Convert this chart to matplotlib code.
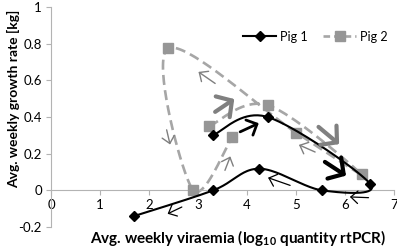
import numpy as np
import matplotlib
matplotlib.use("Agg")
import matplotlib.pyplot as plt

plt.rcParams['font.family'] = ['Lato', 'DejaVu Sans']
plt.rcParams['mathtext.fontset'] = 'custom'
plt.rcParams['mathtext.rm'] = 'Lato:bold'
plt.rcParams['mathtext.bf'] = 'Lato:bold'

# Data (trajectory order)
pig1_x = [3.30, 4.42, 6.52, 5.53, 4.25, 3.31, 1.70]
pig1_y = [0.30, 0.40, 0.033, 0.0, 0.118, 0.0, -0.14]
pig2_x = [3.23, 4.43, 6.34, 5.01, 2.39, 2.89, 3.70]
pig2_y = [0.35, 0.464, 0.087, 0.313, 0.774, 0.004, 0.29]
series_labels = ["Pig 1", "Pig 2"]
x_ticks = [0, 1, 2, 3, 4, 5, 6, 7]
y_ticks = [-0.2, 0, 0.2, 0.4, 0.6, 0.8, 1]

# Direction annotations: (x0, y0, x1, y1, style)
arrows = [
    (3.35, 0.583, 3.01, 0.646, 'gthin'),
    (3.35, 0.428, 3.74, 0.498, 'gbig'),
    (3.86, 0.319, 4.24, 0.366, 'kmid'),
    (5.46, 0.346, 5.88, 0.252, 'gbig'),
    (5.39, 0.209, 5.06, 0.248, 'gthin'),
    (5.59, 0.155, 6.02, 0.080, 'kbig'),
    (6.48, -0.040, 6.10, -0.036, 'kthin'),
    (4.88, 0.027, 4.43, 0.069, 'kthin'),
    (2.36, 0.330, 2.43, 0.250, 'gthin'),
    (3.55, 0.109, 3.66, 0.185, 'gthin'),
    (2.67, -0.091, 2.38, -0.128, 'kthin'),
]


def smooth(xs, ys, n=40):
    P = np.column_stack([xs, ys]).astype(float)
    P = np.vstack([P[0], P, P[-1]])
    out = []
    for i in range(1, len(P) - 2):
        p0, p1, p2, p3 = P[i - 1], P[i], P[i + 1], P[i + 2]
        c1 = p1 + (p2 - p0) / 6.0
        c2 = p2 - (p3 - p1) / 6.0
        t = np.linspace(0, 1, n)[:, None]
        b = ((1 - t) ** 3) * p1 + 3 * ((1 - t) ** 2) * t * c1 + 3 * (1 - t) * t ** 2 * c2 + t ** 3 * p2
        out.append(b if i == 1 else b[1:])
    b = np.vstack(out)
    return b[:, 0], b[:, 1]


fig = plt.figure(figsize=(3.97, 2.50), dpi=100)
ax = fig.add_axes([51 / 397, 1 - 227 / 250, (394 - 51) / 397, (227 - 7) / 250])

gray_line = '#a6a6a6'
gray_mark = '#969696'
dash = (3.8, 2.0)

sx, sy = smooth(pig2_x, pig2_y)
ax.plot(sx, sy, color=gray_line, lw=1.9, dashes=dash, zorder=2)
ax.plot(pig2_x, pig2_y, ls='none', marker='s', ms=7, color=gray_mark, zorder=3)
sx, sy = smooth(pig1_x, pig1_y)
ax.plot(sx, sy, color='black', lw=1.5, zorder=4)
ax.plot(pig1_x, pig1_y, ls='none', marker='D', ms=5.5, color='black', zorder=5)

# legend proxies
h1, = ax.plot([], [], color='black', lw=1.5, marker='D', ms=5)
h2, = ax.plot([], [], color=gray_line, lw=1.9, dashes=(2.5, 1.5), marker='s', ms=6.5,
              markerfacecolor=gray_mark, markeredgecolor=gray_mark)
ax.legend([h1, h2], series_labels, loc='upper right', bbox_to_anchor=(0.995, 0.915),
          ncol=2, frameon=False, fontsize=9, handlelength=2.6, handletextpad=0.3,
          columnspacing=1.3, borderaxespad=0)

styles = {
    'gthin': dict(color='#7f7f7f', lw=1.0, head_width=4.5, head_length=5),
    'gbig': dict(color='#808080', lw=3.0, head_width=9, head_length=8),
    'kthin': dict(color='black', lw=0.9, head_width=4.5, head_length=5),
    'kmid': dict(color='black', lw=2.0, head_width=6, head_length=6),
    'kbig': dict(color='black', lw=3.0, head_width=9, head_length=8),
}
for x0, y0, x1, y1, st in arrows:
    s = styles[st]
    ax.annotate('', xy=(x1, y1), xytext=(x0, y0),
                arrowprops=dict(arrowstyle='->,head_width=%.2f,head_length=%.2f' % (s['head_width'] / 10, s['head_length'] / 10),
                                color=s['color'], lw=s['lw'], shrinkA=0, shrinkB=0),
                zorder=6)

ax.set_xlim(0, 7)
ax.set_ylim(-0.2, 1.0)
ax.set_xticks(x_ticks)
ax.set_yticks(y_ticks)
ax.set_xticklabels([str(v) for v in x_ticks])
ax.set_yticklabels(['-0.2', '0', '0.2', '0.4', '0.6', '0.8', '1'])

for s in ['top', 'right']:
    ax.spines[s].set_visible(False)
ax.spines['bottom'].set_position(('data', 0))
ax.spines['bottom'].set_color('#b3b3b3')
ax.spines['left'].set_color('#b3b3b3')
ax.tick_params(axis='both', colors='#b3b3b3', labelcolor='black', labelsize=9.5,
               direction='out', length=3.5, width=0.8)
ax.tick_params(axis='x', pad=3)
ax.tick_params(axis='y', pad=3)

fig.text(238 / 397, 1 - 238 / 250, r'Avg. weekly viraemia (log$_{\mathregular{10}}$ quantity rtPCR)',
         ha='center', va='center', fontsize=11, fontweight='bold')
fig.text(14 / 397, 1 - 99 / 250, 'Avg. weekly growth rate [kg]', rotation=90,
         ha='center', va='center', fontsize=10, fontweight='bold')

fig.savefig('out.png', dpi=100)
